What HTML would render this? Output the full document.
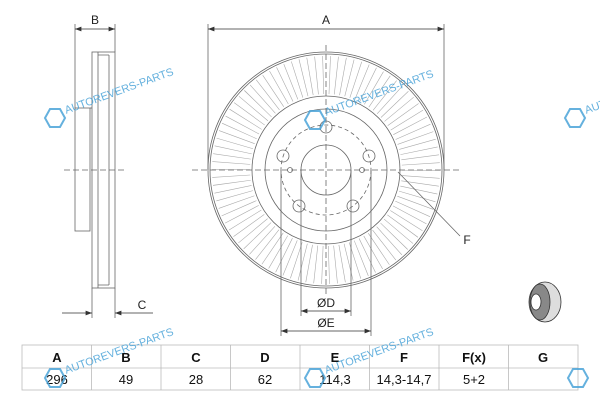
<!DOCTYPE html>
<html><head><style>
body{margin:0;background:#fff;width:600px;height:400px;overflow:hidden;font-family:"Liberation Sans",sans-serif}
</style></head><body>
<svg width="600" height="400" viewBox="0 0 600 400" xmlns="http://www.w3.org/2000/svg" font-family="Liberation Sans, sans-serif">
<defs>
<marker id="ar" markerWidth="8" markerHeight="6" refX="8" refY="3" orient="auto-start-reverse"><path d="M0,0 L8,3 L0,6z" fill="#333"/></marker>
</defs>
<!-- vanes -->
<circle cx="326" cy="170" r="95" fill="none" stroke="#aaa" stroke-width="38" stroke-dasharray="0.6 6.032"/>
<g stroke="#666" fill="none" stroke-width="0.8">
<!-- side view -->
<line x1="75" y1="24" x2="75" y2="108"/><line x1="115" y1="24" x2="115" y2="52"/>
<line x1="75" y1="29" x2="115" y2="29" marker-start="url(#ar)" marker-end="url(#ar)" stroke="#333"/>
<rect x="92" y="52" width="23" height="236"/>
<line x1="98" y1="52" x2="98" y2="288"/><line x1="109" y1="55" x2="109" y2="285"/>
<path d="M98 55 L109 55 M98 285 L109 285"/>
<rect x="75" y="108" width="15" height="123"/><line x1="90" y1="108" x2="92" y2="108"/>
<line x1="92" y1="288" x2="92" y2="318"/><line x1="115" y1="288" x2="115" y2="318"/>
<line x1="62" y1="313" x2="92" y2="313" marker-end="url(#ar)" stroke="#333"/>
<line x1="153" y1="313" x2="115" y2="313" marker-end="url(#ar)" stroke="#333"/>
<line x1="64" y1="170" x2="126" y2="170" stroke-dasharray="6,3"/>
<!-- front view -->
<line x1="208" y1="24" x2="208" y2="170"/><line x1="444" y1="24" x2="444" y2="170"/>
<line x1="208" y1="29" x2="444" y2="29" marker-start="url(#ar)" marker-end="url(#ar)" stroke="#333"/>
<circle cx="326" cy="170" r="118"/><circle cx="326" cy="170" r="116"/>
<circle cx="326" cy="170" r="74" fill="#fff"/><circle cx="326" cy="170" r="61"/>
<circle cx="326" cy="170" r="25"/>
<circle cx="326" cy="170" r="45" stroke-dasharray="4,3"/>
<circle cx="326" cy="127" r="6"/><circle cx="283" cy="156" r="6"/><circle cx="369" cy="156" r="6"/>
<circle cx="299" cy="206" r="6"/><circle cx="353" cy="206" r="6"/>
<circle cx="290" cy="170" r="2.5"/><circle cx="362" cy="170" r="2.5"/>
<line x1="192" y1="170" x2="460" y2="170" stroke-dasharray="6,3"/>
<line x1="326" y1="45" x2="326" y2="295" stroke-dasharray="6,3"/>
<line x1="301" y1="170" x2="301" y2="316"/><line x1="351" y1="170" x2="351" y2="316"/>
<line x1="281" y1="170" x2="281" y2="336"/><line x1="371" y1="170" x2="371" y2="336"/>
<line x1="301" y1="311" x2="351" y2="311" marker-start="url(#ar)" marker-end="url(#ar)" stroke="#333"/>
<line x1="281" y1="331" x2="371" y2="331" marker-start="url(#ar)" marker-end="url(#ar)" stroke="#333"/>
<line x1="398" y1="172" x2="460" y2="236"/>
</g>
<g font-size="12" fill="#222" text-anchor="middle">
<text x="95" y="24">B</text><text x="142" y="309">C</text><text x="326" y="24">A</text>
<text x="467" y="244">F</text><text x="326" y="307">ØD</text><text x="326" y="327">ØE</text>
</g>
<!-- 3D icon -->
<g stroke="#333" fill="#ddd" stroke-width="0.8">
<ellipse cx="545" cy="302" rx="16" ry="20"/><ellipse cx="540" cy="302" rx="10" ry="18" fill="#888"/><ellipse cx="536" cy="302" rx="5" ry="8" fill="#fff"/>
</g>
<!-- table -->
<g stroke="#bbb" fill="none" stroke-width="0.8">
<rect x="22" y="345" width="556" height="45"/><line x1="22" y1="368" x2="578" y2="368"/>
<path d="M91.5 345V390M161 345V390M230.5 345V390M300 345V390M369.5 345V390M439 345V390M508.5 345V390"/>
</g>
<g font-size="13" fill="#111" text-anchor="middle">
<g font-weight="bold"><text x="57" y="362">A</text><text x="126" y="362">B</text><text x="196" y="362">C</text><text x="265" y="362">D</text><text x="335" y="362">E</text><text x="404" y="362">F</text><text x="474" y="362">F(x)</text><text x="543" y="362">G</text></g>
<text x="57" y="384">296</text><text x="126" y="384">49</text><text x="196" y="384">28</text><text x="265" y="384">62</text><text x="335" y="384">114,3</text><text x="404" y="384">14,3-14,7</text><text x="474" y="384">5+2</text>
</g>
<!-- watermarks -->
<g fill="#4aa3d8" font-size="11" opacity="0.85">
<g transform="translate(55,118)"><path d="M-10 0l5-9h10l5 9-5 9h-10z" fill="none" stroke="#4aa3d8" stroke-width="2"/><text x="12" y="0" transform="rotate(-20)">AUTOREVERS-PARTS</text></g>
<g transform="translate(315,120)"><path d="M-10 0l5-9h10l5 9-5 9h-10z" fill="none" stroke="#4aa3d8" stroke-width="2"/><text x="12" y="0" transform="rotate(-20)">AUTOREVERS-PARTS</text></g>
<g transform="translate(575,118)"><path d="M-10 0l5-9h10l5 9-5 9h-10z" fill="none" stroke="#4aa3d8" stroke-width="2"/><text x="12" y="0" transform="rotate(-20)">AUTO</text></g>
<g transform="translate(55,378)"><path d="M-10 0l5-9h10l5 9-5 9h-10z" fill="none" stroke="#4aa3d8" stroke-width="2"/><text x="12" y="0" transform="rotate(-20)">AUTOREVERS-PARTS</text></g>
<g transform="translate(315,378)"><path d="M-10 0l5-9h10l5 9-5 9h-10z" fill="none" stroke="#4aa3d8" stroke-width="2"/><text x="12" y="0" transform="rotate(-20)">AUTOREVERS-PARTS</text></g>
<g transform="translate(578,378)"><path d="M-10 0l5-9h10l5 9-5 9h-10z" fill="none" stroke="#4aa3d8" stroke-width="2"/></g>
</g>
</svg>
</body></html>
